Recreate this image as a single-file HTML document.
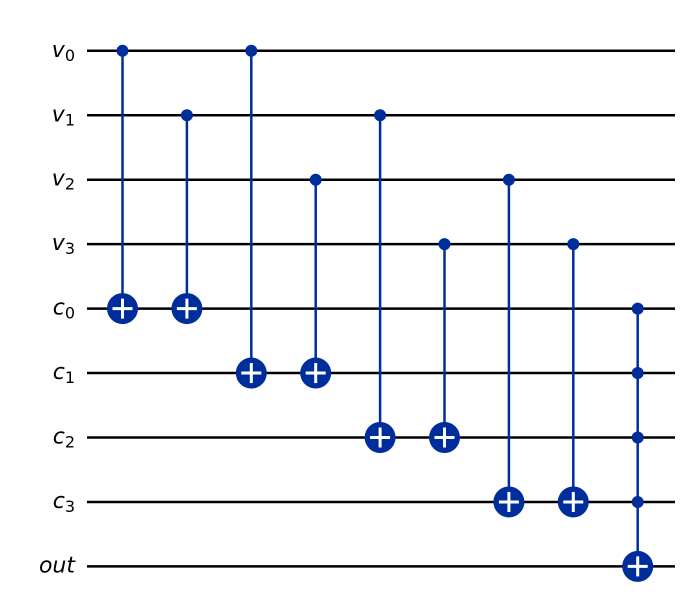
<!DOCTYPE html>
<html><head><meta charset="utf-8"><style>
body{margin:0;background:#fff}
svg{display:block}
text{font-family:"DejaVu Sans","Liberation Sans",sans-serif;font-style:italic;font-size:22px;fill:#000}
</style></head><body>
<svg id="c" width="680" height="605" viewBox="0 0 680 605"></svg>
<script>
const qubitLabels=["v","v","v","v","c","c","c","c","out"];
const qubitSubs=["0","1","2","3","0","1","2","3",""];
const gateControls=[[0],[1],[0],[2],[1],[3],[2],[3],[4,5,6,7]];
const gateTargets=[4,4,5,5,6,6,7,7,8];
const NS="http://www.w3.org/2000/svg";
const svg=document.getElementById('c');
const y0=50.8,dy=64.45,x0=122.5,dx=64.4,blue="#002D9C";
const wy=i=>y0+i*dy, gx=j=>x0+j*dx;
function mk(t,a,p){const e=document.createElementNS(NS,t);for(const k in a)e.setAttribute(k,a[k]);(p||svg).appendChild(e);return e;}
qubitLabels.forEach((l,i)=>{
  const ln=mk('line',{x1:87,x2:675,y1:wy(i),y2:wy(i),stroke:'#000','stroke-width':2.5});
  
  
  const t=mk('text',{x:75,y:wy(i)+6,'text-anchor':'end'});
  
  
  t.textContent=l;
  if(qubitSubs[i]){const s=mk('tspan',{dy:4,'font-size':16,'font-style':'normal'},t);s.textContent=qubitSubs[i];}
});
gateControls.forEach((cs,j)=>{
  const g=mk('g',{});
  
  
  const x=gx(j),tgt=gateTargets[j],all=cs.concat([tgt]);
  mk('line',{x1:x,x2:x,y1:wy(Math.min(...all)),y2:wy(Math.max(...all)),stroke:blue,'stroke-width':2.5},g);
  cs.forEach(c=>mk('circle',{cx:x,cy:wy(c),r:6,fill:blue},g));
  const ty=wy(tgt);
  mk('circle',{cx:x,cy:ty,r:15.5,fill:blue},g);
  mk('line',{x1:x-10,x2:x+10,y1:ty,y2:ty,stroke:'#fff','stroke-width':3},g);
  mk('line',{x1:x,x2:x,y1:ty-10,y2:ty+10,stroke:'#fff','stroke-width':3},g);
});
</script>
</body></html>
